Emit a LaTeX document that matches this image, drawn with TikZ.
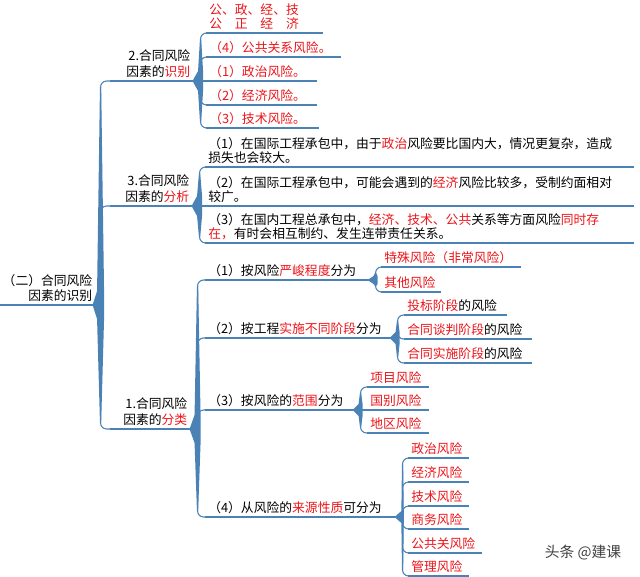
\documentclass[tikz,border=0pt]{standalone}
\usepackage{fontspec}
\setmainfont{Noto Sans CJK SC}
\usetikzlibrary{calc}

\definecolor{mapblue}{rgb}{0.29,0.51,0.71}
\definecolor{mapred}{rgb}{0.93,0.08,0.10}
\newdimen\px \px=0.025cm
\newcommand{\hot}[1]{\textcolor{mapred}{#1}}

% tapered brace behind the links of one parent
\newcommand{\spine}[5]{%
  \fill[mapblue] let \p1=(#1.south east), \p2=(#2.south west), \p3=(#3.south west),
    \p4=($(#1.south east)+(7,0)$) in
    (\x4-0.6\px,\y2-6\px) -- (\x4-#4,\y1+#5) -- (\x1-1\px,\y1) -- (\x4-#4,\y1-#5)
    -- (\x4-0.6\px,\y3+6\px) -- (\x4+0.6\px,\y3+6\px) -- (\x4+#4,\y1-#5)
    -- (\x4+#4,\y1+#5) -- (\x4+0.6\px,\y2-6\px) -- cycle;}

\tikzset{
  link/.style={draw=mapblue,line width=0.75pt,rounded corners=6\px},
  topic/.style={anchor=south west,inner xsep=3\px,inner ysep=2pt,text depth=1.2pt,
    align=left,text width=#1\px,font=\fontsize{9.1}{10}\selectfont},
  twoline/.style={text depth=11.2pt},
  branch/.style={topic=#1,align=right,text depth=12.6pt,font=\fontsize{9.1}{11.4}\selectfont},
}

\begin{document}
\begin{tikzpicture}[x=0.025cm,y=-0.025cm]
\useasboundingbox (0,0) rectangle (640,577);

% main topics
\node[branch=91,inner xsep=1\px,text depth=11.9pt,font=\fontsize{9.1}{10.7}\selectfont] (root) at (0,305) {（二）合同风险\\因素的识别};
\node[branch=77] (b2) at (110,81) {2.合同风险\\因素的\hot{识别}};
\node[branch=76] (b3) at (110,206) {3.合同风险\\因素的\hot{分析}};
\node[branch=74] (b1) at (110,429) {1.合同风险\\因素的\hot{分类}};

% 2. identification
\node[topic=110,text depth=11.2pt] (c2a) at (206,33) {\hot{公、政、经、技}\\\hot{公　正　经　济}};
\node[topic=128] (c2b) at (206,57) {\hot{（4）公共关系风险。}};
\node[topic=104] (c2c) at (206,81) {\hot{（1）政治风险。}};
\node[topic=104] (c2d) at (206,105) {\hot{（2）经济风险。}};
\node[topic=106] (c2e) at (206,128) {\hot{（3）技术风险。}};

% 3. analysis
\node[topic=422,twoline] (c3a) at (205,167) {（1）在国际工程承包中，由于\hot{政治}风险要比国内大，情况更复杂，造成\\损失也会较大。};
\node[topic=422,twoline] (c3b) at (205,206) {（2）在国际工程承包中，可能会遇到的\hot{经济}风险比较多，受制约面相对\\较广。};
\node[topic=422,twoline] (c3c) at (205,243) {（3）在国内工程总承包中，\hot{经济、技术、公共}关系等方面风险\hot{同时存}\\\hot{在，}有时会相互制约、发生连带责任关系。};

% 1. classification
\node[topic=157] (c1a) at (205,280) {（1）按风险\hot{严峻程度}分为};
\node[topic=179] (c1b) at (205,338) {（2）按工程\hot{实施不同阶段}分为};
\node[topic=142] (c1c) at (205,410) {（3）按风险的\hot{范围}分为};
\node[topic=184] (c1d) at (205,517) {（4）从风险的\hot{来源性质}可分为};

\node[topic=133] (d1) at (381,267) {\hot{特殊风险（非常风险）}};
\node[topic=53] (d2) at (381,292) {\hot{其他风险}};

\node[topic=96] (e1) at (404,315) {\hot{投标阶段}的风险};
\node[topic=121] (e2) at (404,339) {\hot{合同谈判阶段}的风险};
\node[topic=121] (e3) at (404,363) {\hot{合同实施阶段}的风险};

\node[topic=55] (f1) at (367,387) {\hot{项目风险}};
\node[topic=55] (f2) at (367,410) {\hot{国别风险}};
\node[topic=55] (f3) at (367,433) {\hot{地区风险}};

\node[topic=54] (g1) at (408,458) {\hot{政治风险}};
\node[topic=54] (g2) at (408,482) {\hot{经济风险}};
\node[topic=54] (g3) at (408,506) {\hot{技术风险}};
\node[topic=54] (g4) at (408,529) {\hot{商务风险}};
\node[topic=67] (g5) at (408,553) {\hot{公共关风险}};
\node[topic=54] (g6) at (408,576) {\hot{管理风险}};

\node[font=\fontsize{10.5}{12}\selectfont,text=black!75] (mark) at (583,553) {头条 @建课};

% braces
\spine{root}{b2}{b1}{3.5\px}{14\px}
\spine{b2}{c2a}{c2e}{2.5\px}{10\px}
\spine{b3}{c3a}{c3c}{2.5\px}{10\px}
\spine{b1}{c1a}{c1d}{3\px}{14\px}
\spine{c1a}{d1}{d2}{2\px}{4\px}
\spine{c1b}{e1}{e3}{2\px}{6\px}
\spine{c1c}{f1}{f3}{2\px}{6\px}
\spine{c1d}{g1}{g6}{1.2\px}{6\px}

% links
\foreach \p/\c in {root/b2,root/b3,root/b1,b2/c2a,b2/c2b,b2/c2d,b2/c2e,b3/c3a,b3/c3c,
    b1/c1a,b1/c1b,b1/c1c,b1/c1d,c1a/d1,c1a/d2,c1b/e1,c1b/e2,c1b/e3,c1c/f1,c1c/f3,
    c1d/g1,c1d/g2,c1d/g3,c1d/g4,c1d/g5,c1d/g6}
  \draw[link] (\p.south east) -- ++(7,0) |- (\c.south west);
\draw[link] (b2.south east) -- (c2c.south west);
\draw[link] (b3.south east) -- (c3b.south west);
\draw[link] (c1c.south east) -- (f2.south west);

% underlines
\foreach \n in {root,b2,b3,b1,c2a,c2b,c2c,c2d,c2e,c3a,c3b,c3c,c1a,c1b,c1c,c1d,
    d1,d2,e1,e2,e3,f1,f2,f3,g1,g2,g3,g4,g5,g6}
  \draw[link] (\n.south west) -- (\n.south east);
\end{tikzpicture}
\end{document}
